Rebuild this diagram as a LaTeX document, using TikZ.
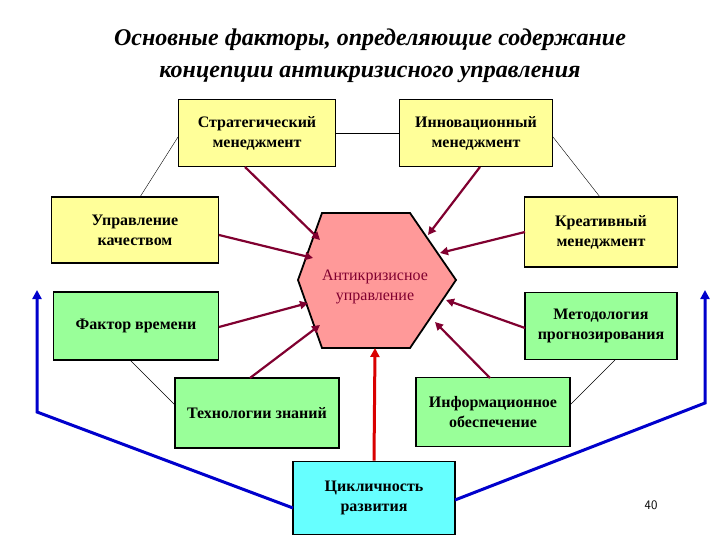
\documentclass[tikz,border=0pt]{standalone}
\usepackage{fontspec}
\setmainfont{Liberation Serif}
\usetikzlibrary{arrows.meta}
\definecolor{cyy}{RGB}{255,255,153}
\definecolor{cgg}{RGB}{153,255,153}
\definecolor{ccy}{RGB}{102,255,255}
\definecolor{cpk}{RGB}{255,153,153}
\definecolor{cmr}{RGB}{128,0,48}
\begin{document}
\begin{tikzpicture}[x=1pt,y=-1pt,
 box/.style={draw,line width=1.8pt,align=center,font=\bfseries\fontsize{16}{20}\selectfont,inner sep=0pt},
 yel/.style={box,fill=cyy},
 grn/.style={box,fill=cgg},
 arr/.style={draw=cmr,line width=2.2pt,-{Triangle[length=8pt,width=8pt]}},
 thin/.style={draw,line width=0.4pt},
 blu/.style={draw=blue!80!black,line width=3pt,-{Triangle[length=9pt,width=9pt]}}]
\useasboundingbox (0,0) rectangle (720,540);
\node[font=\bfseries\itshape\fontsize{24}{32}\selectfont,align=center] (title) at (370,56) {Основные факторы, определяющие содержание\\концепции антикризисного управления};
\node[yel,minimum width=157pt,minimum height=67pt] (s) at (257,133) {Стратегический\\менеджмент};
\node[yel,minimum width=153pt,minimum height=67pt] (i) at (476,133) {Инновационный\\менеджмент};
\node[yel,minimum width=167pt,minimum height=66pt] (u) at (135,230) {Управление\\качеством};
\node[yel,minimum width=153pt,minimum height=70pt] (k) at (601,232) {Креативный\\менеджмент};
\node[grn,minimum width=165pt,minimum height=68pt] (f) at (136,326) {Фактор времени};
\node[grn,minimum width=152pt,minimum height=67pt] (m) at (601,326) {Методология\\прогнозирования};
\node[grn,minimum width=164pt,minimum height=70pt] (t) at (257,413) {Технологии знаний};
\node[grn,minimum width=154pt,minimum height=69pt] (n) at (493,412) {Информационное\\обеспечение};
\node[box,fill=ccy,minimum width=162pt,minimum height=73pt] (c) at (374,498) {Цикличность\\развития};
\draw[line width=1.8pt,fill=cpk] (322,213) -- (410,213) -- (456,280) -- (410,348) -- (322,348) -- (298,280) -- cycle;
\node[align=center,text=cmr,font=\fontsize{16}{20}\selectfont] (h) at (375,287) {Антикризисное\\управление};
\coordinate (hb) at (375,348);
\node[font=\sffamily\fontsize{13}{15}\selectfont] (p) at (651,505) {40};
\draw[thin] (s) -- (i);
\draw[thin] (178,137) -- (140,197);
\draw[thin] (553,137) -- (600,197);
\draw[thin] (130,360) -- (175,405);
\draw[thin] (615,360) -- (570,405);
\draw[arr] (245,167) -- (320,240);
\draw[arr] (480,167) -- (428,235);
\draw[arr] (219,235) -- (313,258);
\draw[arr] (525,232) -- (440,253);
\draw[arr] (219,327) -- (308,303);
\draw[arr] (525,328) -- (446,300);
\draw[arr] (250,378) -- (320,325);
\draw[arr] (490,378) -- (435,322);
\draw[draw=red!85!black,line width=3pt,-{Triangle[length=9pt,width=9pt]}] (c.north) -- (hb);
\draw[blu] (293,508) -- (37,412) -- (37,290);
\draw[blu] (455,500) -- (705,403) -- (705,290);
\end{tikzpicture}
\end{document}
